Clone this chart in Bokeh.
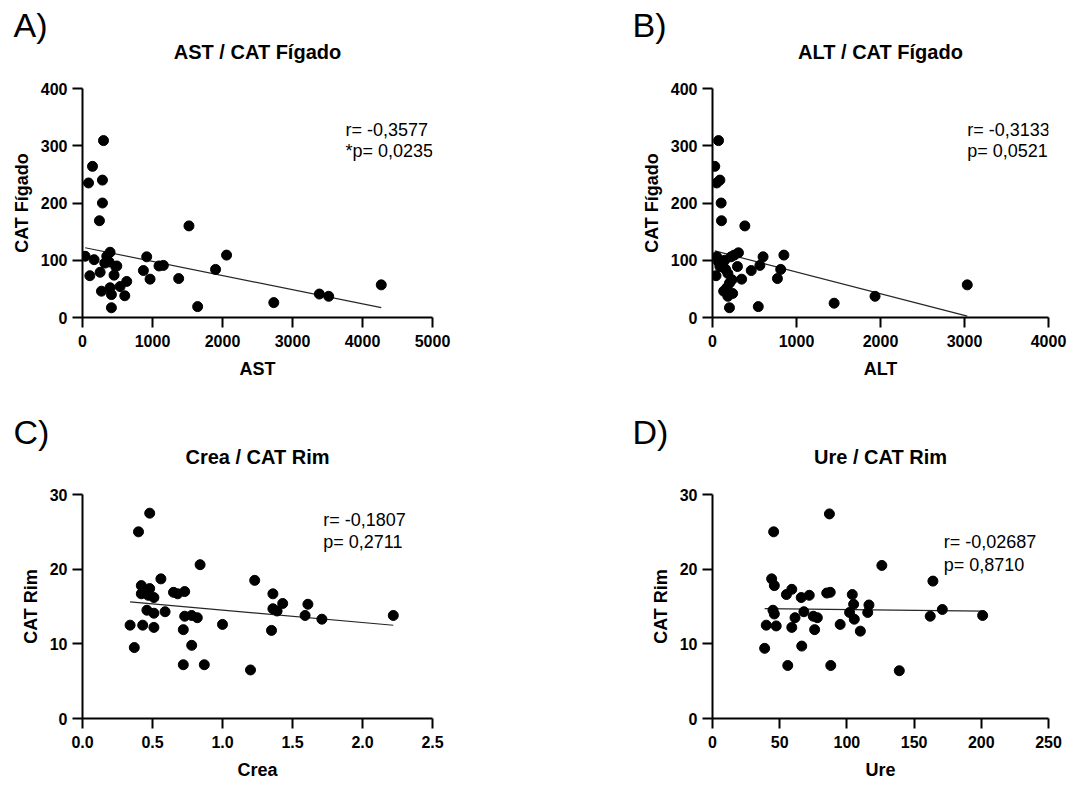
import numpy as np
from bokeh.plotting import figure
from bokeh.models import Range1d, FixedTicker, Label, CustomJSTickFormatter
from bokeh.layouts import column, row
from bokeh.embed import file_html
from bokeh.resources import INLINE

# ---------------- data ----------------
ast = [38, 86, 143, 105, 166, 300, 285, 285, 242, 252, 271, 318, 347, 394, 380, 475,
       490, 451, 394, 413, 413, 537, 604, 632, 870, 917, 965, 1093, 1155, 1374, 1521,
       1645, 1901, 2058, 2733, 3384, 3517, 4268]
cat_figado_ast = [107, 235, 264, 73, 101, 309, 240, 200, 169, 79, 46, 95, 107, 114, 97, 89,
                  90, 74, 52, 40, 17, 54, 38, 63, 82, 106, 67, 90, 91, 68, 160,
                  19, 84, 109, 26, 41, 37, 57]

alt = [27, 72, 50, 88, 103, 107, 50, 42, 72, 107, 126, 156, 145, 183, 133, 171, 183, 202,
       240, 232, 221, 259, 309, 297, 347, 385, 461, 545, 564, 602, 773, 812, 850, 1448,
       1935, 3033, 202, 88]
cat_figado_alt = [264, 309, 235, 240, 200, 169, 106, 73, 97, 95, 89, 84, 100, 77, 46, 52, 37, 17,
                  42, 66, 106, 109, 113, 89, 67, 160, 82, 19, 91, 106, 68, 84, 109, 25,
                  37, 57, 60, 89]

crea = [0.34, 0.37, 0.40, 0.48, 0.42, 0.42, 0.43, 0.46, 0.48, 0.47, 0.51, 0.51, 0.51, 0.56,
        0.59, 0.65, 0.68, 0.73, 0.72, 0.73, 0.72, 0.78, 0.78, 0.82, 0.84, 0.87, 1.00, 1.20,
        1.23, 1.35, 1.36, 1.36, 1.39, 1.43, 1.59, 1.61, 1.71, 2.22]
cat_rim_crea = [12.5, 9.5, 25.0, 27.5, 17.8, 16.7, 12.5, 14.5, 17.4, 16.5, 16.2, 14.1, 12.2, 18.7,
                14.3, 16.9, 16.7, 17.0, 11.9, 13.7, 7.2, 13.8, 9.8, 13.5, 20.6, 7.2, 12.6, 6.5,
                18.5, 11.8, 16.7, 14.7, 14.4, 15.4, 13.8, 15.3, 13.3, 13.8]

ure = [38.8, 40, 45.5, 44, 46, 45, 46, 47.4, 56, 55, 59, 59, 61.4, 66, 66.4, 68, 72, 75, 78, 76,
       85, 87.6, 87, 88, 95, 102, 104, 105, 105.5, 110, 115.5, 116.4, 126, 139, 162, 164, 171, 201]
cat_rim_ure = [9.4, 12.5, 25.0, 18.7, 17.8, 14.5, 14.0, 12.4, 7.1, 16.6, 17.3, 12.2, 13.5, 16.2,
               9.7, 14.3, 16.5, 13.7, 13.5, 11.9, 16.8, 16.9, 27.4, 7.1, 12.6, 14.2, 16.6, 15.3,
               13.3, 11.7, 14.2, 15.2, 20.5, 6.4, 13.7, 18.4, 14.6, 13.8]

titles = ["AST / CAT Fígado", "ALT / CAT Fígado", "Crea / CAT Rim", "Ure / CAT Rim"]
letters = ["A)", "B)", "C)", "D)"]
x_labels = ["AST", "ALT", "Crea", "Ure"]
y_labels = ["CAT Fígado", "CAT Fígado", "CAT Rim", "CAT Rim"]
r_texts = ["r= -0,3577", "r= -0,3133", "r= -0,1807", "r= -0,02687"]
p_texts = ["*p= 0,0235", "p= 0,0521", "p= 0,2711", "p= 0,8710"]
x_ticks = [[0, 1000, 2000, 3000, 4000, 5000], [0, 1000, 2000, 3000, 4000],
           [0, 0.5, 1.0, 1.5, 2.0, 2.5], [0, 50, 100, 150, 200, 250]]
y_ticks = [[0, 100, 200, 300, 400], [0, 100, 200, 300, 400],
           [0, 10, 20, 30], [0, 10, 20, 30]]

FONT = "Liberation Sans"
FRAME_H = 229
BL = 82          # left border of every scatter figure
W_LEFT, W_RIGHT = 630, 438
FW_LEFT, FW_RIGHT = 350, 336


def make_header(i, width, height, letter_x, letter_y, title_x, title_y):
    h = figure(width=width, height=height, x_range=Range1d(0, width), y_range=Range1d(0, height),
               x_axis_type=None, y_axis_type=None, output_backend="svg",
               toolbar_location=None, min_border=0, title=None)
    h.outline_line_color = None
    h.add_layout(Label(x=letter_x, y=letter_y, text=letters[i], text_font=FONT,
                       text_font_size="34px", text_color="black",
                       text_baseline="middle", text_align="left"))
    h.add_layout(Label(x=title_x, y=title_y, text=titles[i], text_font=FONT,
                       text_font_size="20px", text_font_style="bold", text_color="black",
                       text_baseline="middle", text_align="center"))
    return h


def make_panel(x, y, i, width, fw, height, bt, ann_x, ann_y1, ann_y2, decimals=False):
    xt, yt = x_ticks[i], y_ticks[i]
    p = figure(width=width, height=height, title=None,
               x_range=Range1d(xt[0], xt[-1]), y_range=Range1d(yt[0], yt[-1]),
               output_backend="svg", toolbar_location=None,
               min_border_left=BL, min_border_right=width - BL - fw,
               min_border_top=bt, min_border_bottom=height - bt - FRAME_H)
    p.outline_line_color = None
    p.xgrid.visible = False
    p.ygrid.visible = False

    for ax in (p.xaxis[0], p.yaxis[0]):
        ax.axis_line_width = 2
        ax.axis_line_color = "black"
        ax.major_tick_line_width = 2
        ax.major_tick_line_color = "black"
        ax.major_tick_out = 10
        ax.major_tick_in = 0
        ax.minor_tick_line_color = None
        ax.major_label_text_font = FONT
        ax.major_label_text_font_size = "16px"
        ax.major_label_text_font_style = "bold"
        ax.major_label_text_color = "black"
        ax.axis_label_text_font = FONT
        ax.axis_label_text_font_size = "18px"
        ax.axis_label_text_font_style = "bold"
        ax.axis_label_text_color = "black"
    p.xaxis.major_label_standoff = 7
    p.xaxis.axis_label_standoff = 9
    p.yaxis.major_label_standoff = 5
    p.yaxis.axis_label_standoff = 6
    p.xaxis.ticker = FixedTicker(ticks=xt)
    p.yaxis.ticker = FixedTicker(ticks=yt)
    p.xaxis.axis_label = x_labels[i]
    p.yaxis.axis_label = y_labels[i]
    if decimals:
        p.xaxis.formatter = CustomJSTickFormatter(code="return tick.toFixed(1);")

    # linear regression over the data's x span
    xa, ya = np.asarray(x, float), np.asarray(y, float)
    slope, intercept = np.polyfit(xa, ya, 1)
    lx = np.array([xa.min(), xa.max()])
    p.line(lx, slope * lx + intercept, line_color="#262626", line_width=1.2)

    p.scatter(x, y, size=10, fill_color="black", line_color="black")

    for txt, yy in ((r_texts[i], ann_y1), (p_texts[i], ann_y2)):
        p.add_layout(Label(x=ann_x, y=yy, text=txt, text_font=FONT, text_font_size="18px",
                           text_color="black", text_baseline="middle", text_align="left"))
    return p


# top block: header 0-68, scatter 68-398 ; bottom block: header 398-466, scatter 466-782
HH1, H1, HH2, H2 = 68, 330, 68, 316

hA = make_header(0, W_LEFT, HH1, 13, HH1 - 24, BL + FW_LEFT / 2, HH1 - 51)
hB = make_header(1, W_RIGHT, HH1, 2, HH1 - 24, BL + FW_RIGHT / 2, HH1 - 51)
hC = make_header(2, W_LEFT, HH2, 13, HH2 - 33, BL + FW_LEFT / 2, HH2 - 58)
hD = make_header(3, W_RIGHT, HH2, 2, HH2 - 33, BL + FW_RIGHT / 2, HH2 - 58)

pA = make_panel(ast, cat_figado_ast, 0, W_LEFT, FW_LEFT, H1, 20, 3757, 328, 290)
pB = make_panel(alt, cat_figado_alt, 1, W_RIGHT, FW_RIGHT, H1, 20, 3032, 328, 290)
pC = make_panel(crea, cat_rim_crea, 2, W_LEFT, FW_LEFT, H2, 28, 1.719, 26.6, 23.6, decimals=True)
pD = make_panel(ure, cat_rim_ure, 3, W_RIGHT, FW_RIGHT, H2, 28, 172, 23.6, 20.6)

layout = column(row(hA, hB), row(pA, pB), row(hC, hD), row(pC, pD))
open("out.html", "w").write(file_html(layout, INLINE))
